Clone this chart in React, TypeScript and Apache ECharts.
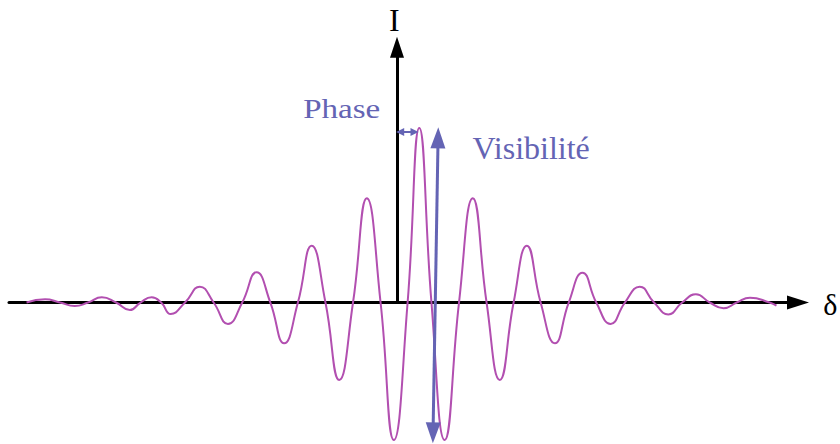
import React, { useEffect, useRef } from "react";
import * as echarts from "echarts";

// Optical path difference δ (in fringe periods) and normalised intensity I
const DELTA = [
  -6.99, -6.64, -6.36, -6.08, -5.83, -5.57, -5.3, -5.04, -4.84, -4.63, -4.45, -4.27, -4.0, -3.72,
  -3.46, -3.19, -2.92, -2.65, -2.39, -2.13, -1.87, -1.61, -1.35, -1.09, -0.83, -0.57, -0.31, -0.06,
  0.2, 0.42, 0.65, 0.9, 1.17, 1.43, 1.69, 1.94, 2.2, 2.45, 2.71, 2.98, 3.24, 3.5, 3.76, 4.03,
  4.3, 4.58, 4.85, 5.12, 5.38, 5.64, 5.9, 6.16, 6.41, 6.66, 7.03, 7.16,
];
const INTENSITY = [
  0, 0.018, 0, -0.02, 0, 0.03, 0, -0.043, 0, 0.03, 0, -0.066, 0, 0.091,
  0, -0.123, 0, 0.173, 0, -0.234, 0, 0.326, 0, -0.444, 0, 0.597, 0, -0.788,
  0, 1.0, 0, -0.788, 0, 0.597, 0, -0.444, 0, 0.326, 0, -0.234, 0, 0.171, 0, -0.123,
  0, 0.091, 0, -0.068, 0, 0.047, 0, -0.033, 0, 0.028, 0, -0.018,
];

// Axis range
const X_MIN = -7.321;
const X_MAX = 7.566;
const Y_MIN = -0.811;
const Y_MAX = 1.734;
const Y_AXIS_TOP = 1.463;

// Annotations (data coordinates)
const PHASE_ARROW = [
  [0.06, 0.977],
  [0.33, 0.977],
];
const VIS_ARROW = [
  [0.775, 0.944],
  [0.68, -0.747],
];

const X_LABEL = "δ";
const Y_LABEL = "I";
const PHASE_LABEL = "Phase";
const VIS_LABEL = "Visibilité";

const SERIF = "Liberation Serif, Times New Roman, serif";
const CURVE = "#b24fb0";
const ANNOT = "#6464b4";

export default function App() {
  const ref = useRef<HTMLDivElement>(null);

  useEffect(() => {
    if (!ref.current) return;
    const chart = echarts.init(ref.current, null, { renderer: "svg" });
    const data = DELTA.map((d, i) => [d, INTENSITY[i]]);

    chart.setOption({
      animation: false,
      backgroundColor: "#ffffff",
      grid: { left: 9, right: 42, top: 0, bottom: 0, containLabel: false },
      xAxis: {
        type: "value",
        min: X_MIN,
        max: X_MAX,
        axisLine: {
          show: true,
          onZero: true,
          symbol: ["none", "triangle"],
          symbolSize: [14, 22],
          lineStyle: { color: "#000", width: 3 },
        },
        axisTick: { show: false },
        axisLabel: { show: false },
        splitLine: { show: false },
      },
      yAxis: {
        type: "value",
        min: Y_MIN,
        max: Y_MAX,
        show: false,
        splitLine: { show: false },
      },
      series: [
        {
          type: "line",
          data,
          showSymbol: false,
          smooth: 0.5,
          silent: true,
          lineStyle: { color: CURVE, width: 2 },
          z: 3,
          markLine: {
            silent: true,
            symbol: ["none", "none"],
            label: { show: false },
            emphasis: { disabled: true },
            data: [
              [
                {
                  coord: [0, 0],
                  symbol: "none",
                  lineStyle: { color: "#000", width: 3, type: "solid" },
                },
                {
                  coord: [0, Y_AXIS_TOP],
                  symbol: "triangle",
                  symbolSize: [14, 21],
                  lineStyle: { color: "#000", width: 3, type: "solid" },
                },
              ],
              [
                {
                  coord: PHASE_ARROW[0],
                  symbol: "triangle",
                  symbolSize: [8, 8],
                  lineStyle: { color: ANNOT, width: 2, type: "solid" },
                },
                {
                  coord: PHASE_ARROW[1],
                  symbol: "triangle",
                  symbolSize: [8, 8],
                  lineStyle: { color: ANNOT, width: 2, type: "solid" },
                },
              ],
              [
                {
                  coord: VIS_ARROW[0],
                  symbol: "triangle",
                  symbolSize: [15, 21],
                  lineStyle: { color: ANNOT, width: 3, type: "solid" },
                },
                {
                  coord: VIS_ARROW[1],
                  symbol: "triangle",
                  symbolSize: [15, 21],
                  lineStyle: { color: ANNOT, width: 3, type: "solid" },
                },
              ],
            ],
          },
        },
      ],
      graphic: [
        {
          type: "text",
          x: 394.3,
          y: 20,
          style: {
            text: Y_LABEL,
            fontSize: 32,
            fontFamily: SERIF,
            fill: "#000",
            align: "center",
            verticalAlign: "middle",
          },
        },
        {
          type: "text",
          x: 830.3,
          y: 304.6,
          style: {
            text: X_LABEL,
            fontSize: 30,
            fontFamily: SERIF,
            fill: "#000",
            align: "center",
            verticalAlign: "middle",
          },
        },
        {
          type: "text",
          x: 341.7,
          y: 108.9,
          scaleX: 1.18,
          style: {
            text: PHASE_LABEL,
            fontSize: 28,
            fontFamily: SERIF,
            fill: ANNOT,
            align: "center",
            verticalAlign: "middle",
          },
        },
        {
          type: "text",
          x: 531.2,
          y: 147.5,
          style: {
            text: VIS_LABEL,
            fontSize: 32,
            fontFamily: SERIF,
            fill: ANNOT,
            align: "center",
            verticalAlign: "middle",
          },
        },
      ],
    });

    return () => chart.dispose();
  }, []);

  return (
    <div
      ref={ref}
      style={{ position: "fixed", left: 0, top: 0, width: 840, height: 444, background: "#fff" }}
    />
  );
}
